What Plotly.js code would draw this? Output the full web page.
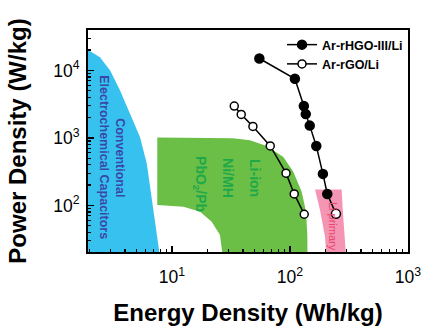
<!DOCTYPE html>
<html><head><meta charset="utf-8">
<script src="https://cdn.plot.ly/plotly-3.0.1.min.js"></script>
<style>html,body{margin:0;padding:0;background:#fff;}#chart{width:424px;height:326px;}</style>
</head><body><div id="chart"></div>
<script>
// Measured series (Energy density Wh/kg, Power density W/kg)
const hgoEnergy = [55, 110, 131, 136, 147, 167, 190, 207, 245];
const hgoPower  = [15000, 7500, 2960, 2250, 1520, 760, 293, 148, 75];
const rgoEnergy = [33.7, 38.6, 48.5, 68, 92.5, 108.6, 132];
const rgoPower  = [2960, 2230, 1480, 760, 300, 148, 74];

// Region outlines
const capE = [1.5, 1.94, 2.45, 2.99, 3.62, 4.40, 5.35, 6.11, 6.73, 7.41, 7.76, 7.9, 1.5];
const capP = [20100, 20100, 15700, 10000, 5070, 2320, 1030, 417, 134, 43, 21.9, 10, 10];

const batE = [7.5, 32.9, 45.8, 63.5, 87.8, 106.6, 125.6, 136.7, 140.2, 141, 141, 28.1, 25.5, 21.7, 17.3, 12.5, 7.5];
const batP = [1010, 990, 923, 759, 522, 314, 159, 80.4, 36.4, 20.7, 10, 10, 36.4, 57.3, 80.4, 95.3, 101];

const priE = [163, 274, 280, 292.6, 296.5, 297, 202.5, 202, 198, 179.5];
const priP = [172, 172, 85.3, 34.4, 20.7, 10, 10, 20.7, 34.4, 85.3];

const legendNames = ['Ar-rHGO-III/Li', 'Ar-rGO/Li'];
const xTickVals = [10, 100, 1000];
const xTickText = ['10<sup>1</sup>', '10<sup>2</sup>', '10<sup>3</sup>'];
const yTickVals = [100, 1000, 10000];
const yTickText = ['10<sup>2</sup>', '10<sup>3</sup>', '10<sup>4</sup>'];

const FONT = 'Liberation Sans, Arial, sans-serif';

function minorVals(lo, hi) {
  const v = [];
  for (let d = lo; d <= hi; d++) for (let m = 2; m <= 9; m++) v.push(m * Math.pow(10, d));
  return v;
}

const hgoColors = hgoEnergy.map((_, i) => i === hgoEnergy.length - 1 ? 'white' : 'black');

const traces = [
  {x: capE, y: capP, mode: 'lines', fill: 'toself', fillcolor: '#36c1ee', line: {width: 0}, hoverinfo: 'skip', showlegend: false},
  {x: batE, y: batP, mode: 'lines', fill: 'toself', fillcolor: '#6cbf46', line: {width: 0}, hoverinfo: 'skip', showlegend: false},
  {x: priE, y: priP, mode: 'lines', fill: 'toself', fillcolor: '#f495b4', line: {width: 0}, hoverinfo: 'skip', showlegend: false},
  {x: hgoEnergy, y: hgoPower, name: legendNames[0], mode: 'lines+markers',
   line: {color: 'black', width: 1.5},
   marker: {symbol: 'circle', size: 9, color: hgoColors, line: {color: 'black', width: 1.5}}},
  {x: rgoEnergy, y: rgoPower, name: legendNames[1], mode: 'lines+markers',
   line: {color: 'black', width: 1.5},
   marker: {symbol: 'circle', size: 8, color: 'white', line: {color: 'black', width: 1.5}}}
];

const ann = (text, x, y, size, color, weight) => ({
  text: text, xref: 'paper', yref: 'paper', x: x, y: y, showarrow: false, textangle: 90,
  font: {family: FONT, size: size, color: color, weight: weight}, xanchor: 'center', yanchor: 'middle'
});

const layout = {
  width: 424, height: 326,
  margin: {l: 88, r: 16, t: 30, b: 74},
  paper_bgcolor: 'white', plot_bgcolor: 'white',
  showlegend: true,
  legend: {x: 1, y: 1, xanchor: 'right', yanchor: 'top', bgcolor: 'rgba(0,0,0,0)',
           font: {family: FONT, size: 12.5, color: 'black', weight: 'bold'}, tracegroupgap: 0},
  xaxis: {
    type: 'log', range: [0.288, 3.0], showgrid: false, zeroline: false,
    showline: true, linecolor: 'black', linewidth: 2, mirror: true,
    ticks: 'inside', ticklen: 6, tickwidth: 1.5, tickcolor: 'black',
    tickvals: xTickVals, ticktext: xTickText, ticklabelstandoff: 8,
    tickfont: {family: FONT, size: 17.5, color: 'black'},
    minor: {ticks: 'inside', ticklen: 3, tickwidth: 1.2, tickcolor: 'black', tickvals: minorVals(0, 2), showgrid: false},
    title: {text: 'Energy Density (Wh/kg)', font: {family: FONT, size: 24, color: 'black', weight: 'bold'}, standoff: 18}
  },
  yaxis: {
    type: 'log', range: [1.31, 4.598], showgrid: false, zeroline: false,
    showline: true, linecolor: 'black', linewidth: 2, mirror: true,
    ticks: 'inside', ticklen: 6, tickwidth: 1.5, tickcolor: 'black',
    tickvals: yTickVals, ticktext: yTickText, ticklabelstandoff: 3,
    tickfont: {family: FONT, size: 17.5, color: 'black'},
    minor: {ticks: 'inside', ticklen: 3, tickwidth: 1.2, tickcolor: 'black', tickvals: minorVals(1, 4), showgrid: false},
    title: {text: 'Power Density (W/kg)', font: {family: FONT, size: 24, color: 'black', weight: 'bold'}, standoff: 20}
  },
  annotations: [
    ann('Conventional', 0.10, 0.427, 12.5, '#3b47a8', 'bold'),
    ann('Electrochemical Capacitors', 0.05, 0.427, 12.5, '#3b47a8', 'bold'),
    ann('Li-ion', 0.522, 0.333, 14, '#1fa84a', 'bold'),
    ann('Ni/MH', 0.4375, 0.333, 14, '#1fa84a', 'bold'),
    ann('PbO<sub>2</sub>/Pb', 0.35, 0.306, 14, '#1fa84a', 'bold'),
    ann('Li primary', 0.766, 0.117, 11, '#e8456a', 'normal')
  ]
};

Plotly.newPlot('chart', traces, layout, {displayModeBar: false, staticPlot: true});
</script></body></html>
